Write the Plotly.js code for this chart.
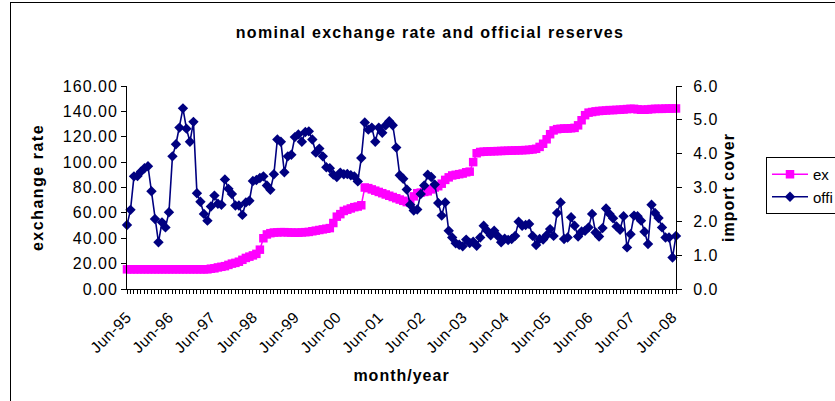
<!DOCTYPE html>
<html>
<head>
<meta charset="utf-8">
<script src="https://cdn.plot.ly/plotly-3.0.1.min.js"></script>
<style>
html, body { margin:0; padding:0; overflow:hidden; background:#fff; width:835px; height:401px; }
#chart { position:absolute; left:0; top:0; }
#frame { position:absolute; left:10px; top:2px; width:1000px; height:1000px; border:1px solid #000; pointer-events:none; }
#chart svg text { letter-spacing: 1px; }
#chart svg .gtitle { letter-spacing: 1.3px; }
#chart svg .ytitle { letter-spacing: 1.5px; }
#chart svg .xtick text { letter-spacing: 0.5px; }
#chart svg .legendtext { letter-spacing: 0px; }
</style>
</head>
<body>
<div id="chart"></div>
<div id="frame"></div>
<script>
// ---- data (monthly, Jun-95 .. Jul-08) ----
const startYear = 1995;
const startMonth = 5; // June (0-based)
const monthNames = ['Jan','Feb','Mar','Apr','May','Jun','Jul','Aug','Sep','Oct','Nov','Dec'];

const exchangeRate = [
  15.5,15.5,15.5,15.5,15.5,15.5,15.5,15.5,15.5,15.5,15.5,15.5,
  15.5,15.5,15.5,15.5,15.5,15.5,15.5,15.5,15.5,15.5,15.5,15.5,
  16.0,16.3,17.0,17.5,18.0,19.0,20.0,20.6,21.5,23.0,24.5,25.5,
  26.5,27.7,31.0,40.0,43.0,44.0,44.5,44.6,44.8,44.8,44.6,44.5,
  44.4,44.4,44.6,44.8,45.0,45.5,46.0,46.5,47.0,47.5,48.0,52.0,
  57.0,59.0,61.5,62.5,63.5,64.5,65.0,66.0,80.0,79.5,78.5,77.5,
  76.5,75.5,74.5,73.5,72.5,71.5,70.5,69.5,68.5,68.0,73.0,75.5,
  76.0,76.5,77.0,78.5,80.0,81.0,83.0,86.0,88.0,89.5,90.0,90.5,
  91.0,92.0,92.5,100.0,107.0,108.0,108.2,108.4,108.5,108.6,108.7,108.8,
  108.9,109.0,109.1,109.2,109.3,109.4,109.5,109.7,110.0,110.5,112.0,114.5,
  118.0,122.0,125.0,126.0,126.3,126.5,126.5,126.7,127.0,129.0,133.0,137.0,
  139.0,139.5,140.0,140.3,140.5,140.7,141.0,141.0,141.2,141.3,141.5,141.8,
  142.0,142.0,141.6,141.3,141.3,141.5,141.8,142.0,142.0,142.0,142.2,142.2,
  142.3,142.3
];

const importCover = [
  1.89,2.34,3.33,3.34,3.47,3.57,3.63,2.89,2.07,1.38,1.97,1.82,
  2.27,3.92,4.28,4.77,5.34,4.74,4.35,4.94,2.83,2.58,2.22,2.02,
  2.44,2.76,2.52,2.49,3.24,2.96,2.81,2.47,2.47,2.19,2.56,2.61,
  3.19,3.22,3.28,3.33,3.06,2.93,3.39,4.42,4.35,3.45,3.92,3.97,
  4.49,4.57,4.35,4.64,4.66,4.42,4.03,4.15,3.92,3.60,3.57,3.38,
  3.31,3.44,3.39,3.40,3.36,3.33,3.18,3.87,4.92,4.71,4.77,4.35,
  4.77,4.62,4.84,4.96,4.84,4.18,3.36,3.26,2.94,2.49,2.32,2.35,
  2.81,3.06,3.38,3.31,3.09,2.54,2.17,2.56,1.72,1.52,1.35,1.31,
  1.26,1.46,1.36,1.40,1.28,1.52,1.87,1.72,1.59,1.72,1.57,1.38,
  1.49,1.45,1.48,1.57,1.99,1.87,1.89,1.92,1.57,1.30,1.48,1.46,
  1.59,1.77,1.57,2.25,2.56,1.48,1.52,2.12,1.87,1.55,1.70,1.72,
  1.82,2.22,1.67,1.55,1.80,2.38,2.22,2.09,1.85,1.75,2.15,1.23,
  1.62,2.17,2.15,2.02,1.69,1.33,2.49,2.25,2.10,1.82,1.52,1.52,
  0.93,1.57
];

// legend labels as visible in the (cropped) reference
const seriesNames = ['ex', 'offi'];

// categories (month labels) and the yearly tick labels
const months = exchangeRate.map((_, i) => {
  const m = (startMonth + i) % 12;
  const y = startYear + Math.floor((startMonth + i) / 12);
  return monthNames[m] + '-' + String(y % 100).padStart(2, '0');
});
const monthIndex = months.map((_, i) => i);
const tickIdx = monthIndex.filter(i => months[i].startsWith('Jun'));
const tickText = tickIdx.map(i => months[i]);

const FONT = 'Liberation Sans, Arial, sans-serif';
const W = 900, H = 401;
const L = 127, R = 676, T = 86, B = 289;

const traces = [
  {
    x: monthIndex, y: exchangeRate, name: seriesNames[0],
    type: 'scatter', mode: 'lines+markers', yaxis: 'y',
    line: {color: '#FF00FF', width: 1.5},
    marker: {symbol: 'square', size: 8.5, color: '#FF00FF'},
    cliponaxis: false
  },
  {
    x: monthIndex, y: importCover, name: seriesNames[1],
    type: 'scatter', mode: 'lines+markers', yaxis: 'y2',
    line: {color: '#000080', width: 1.6},
    marker: {symbol: 'diamond', size: 8, color: '#000080'},
    cliponaxis: false
  }
];

const xr = [0, monthIndex.length - 1];
const baseX = {
  range: xr, showgrid: false, zeroline: false, showline: true,
  linecolor: '#000', linewidth: 1, fixedrange: true
};

const layout = {
  width: W, height: H,
  margin: {l: L, r: W - R, t: T, b: H - B, pad: 0, autoexpand: false},
  paper_bgcolor: '#fff', plot_bgcolor: '#fff',
  font: {family: FONT, color: '#000', size: 16},
  showlegend: true,
  title: {
    text: 'nominal exchange rate and official reserves',
    x: 430 / W, xref: 'container', xanchor: 'center',
    y: 1 - 32 / H, yref: 'container', yanchor: 'middle',
    font: {family: FONT, size: 16, color: '#000', weight: 'bold'}
  },
  xaxis: Object.assign({}, baseX, {
    tickmode: 'array', tickvals: tickIdx, ticktext: tickText,
    tickangle: -45, ticks: 'outside', ticklen: 4, tickcolor: '#000', tickwidth: 1,
    minor: {tickmode: 'linear', tick0: 0, dtick: 1, ticks: 'outside', ticklen: 4, tickcolor: '#000', tickwidth: 1},
    ticklabelstandoff: 8,
    tickfont: {family: FONT, size: 15.5, color: '#000'},
    title: {text: 'month/year', font: {family: FONT, size: 16, color: '#000', weight: 'bold'}, standoff: 16}
  }),
  xaxis3: Object.assign({}, baseX, {
    overlaying: 'x', anchor: 'y', side: 'bottom',
    tickmode: 'linear', tick0: 0, dtick: 1, ticks: 'inside', ticklen: 6, tickcolor: '#000', tickwidth: 1,
    showticklabels: false
  }),
  yaxis: {
    range: [0, 160], tickmode: 'linear', tick0: 0, dtick: 20, tickformat: '.2f',
    showgrid: false, zeroline: false, showline: true, linecolor: '#000', linewidth: 1,
    ticks: 'outside', ticklen: 5, tickcolor: '#000', tickwidth: 1,
    tickfont: {family: FONT, size: 16, color: '#000'},
    title: {text: 'exchange rate', font: {family: FONT, size: 16, color: '#000', weight: 'bold'}, standoff: 21},
    fixedrange: true
  },
  yaxis3: {
    range: [0, 160], tickmode: 'linear', tick0: 0, dtick: 20, overlaying: 'y', side: 'left', anchor: 'x',
    showgrid: false, zeroline: false, showline: false,
    ticks: 'inside', ticklen: 6, tickcolor: '#000', tickwidth: 1, showticklabels: false, fixedrange: true
  },
  yaxis2: {
    range: [0, 6], tickmode: 'linear', tick0: 0, dtick: 1, tickformat: '.1f',
    overlaying: 'y', side: 'right', anchor: 'x',
    showgrid: false, zeroline: false, showline: true, linecolor: '#000', linewidth: 1,
    ticks: 'outside', ticklen: 5, tickcolor: '#000', tickwidth: 1,
    ticklabelstandoff: 8,
    tickfont: {family: FONT, size: 16, color: '#000'},
    title: {text: 'import cover', font: {family: FONT, size: 16, color: '#000', weight: 'bold'}, standoff: 8},
    fixedrange: true
  },
  yaxis4: {
    range: [0, 6], tickmode: 'linear', tick0: 0, dtick: 1, overlaying: 'y', side: 'right', anchor: 'x',
    showgrid: false, zeroline: false, showline: false,
    ticks: 'inside', ticklen: 5, tickcolor: '#000', tickwidth: 1, showticklabels: false, fixedrange: true
  },
  legend: {
    x: (766 - L) / (R - L), xanchor: 'left',
    y: (B - 157) / (B - T), yanchor: 'top',
    bordercolor: '#000', borderwidth: 1, bgcolor: '#fff',
    font: {family: FONT, size: 15, color: '#000'},
    tracegroupgap: 0, itemwidth: 36
  }
};

Plotly.newPlot('chart', traces, layout, {displayModeBar: false, staticPlot: true});
</script>
</body>
</html>
